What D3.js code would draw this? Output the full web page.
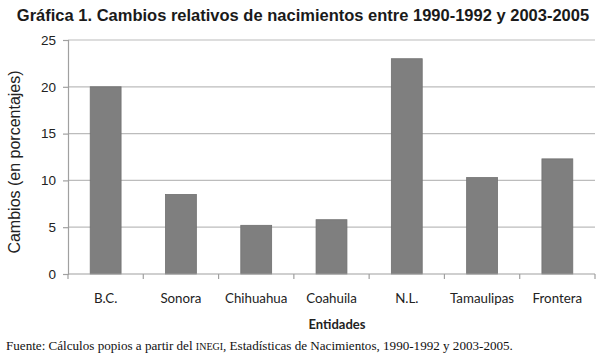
<!DOCTYPE html>
<html><head><meta charset="utf-8">
<script src="https://cdn.jsdelivr.net/npm/d3@7"></script>
<style>body{margin:0;background:#fff}svg{display:block}</style>
</head><body>
<script>
const categories = ["B.C.","Sonora","Chihuahua","Coahuila","N.L.","Tamaulipas","Frontera"];
const values = [20.0, 8.5, 5.2, 5.8, 23.0, 10.3, 12.3];
const yTicks = [0,5,10,15,20,25];
const title = "Gráfica 1. Cambios relativos de nacimientos entre 1990-1992 y 2003-2005";
const yTitle = "Cambios (en porcentajes)";
const xTitle = "Entidades";

const W=600,H=359;
const svg=d3.select("body").append("svg").attr("width",W).attr("height",H);

const x=d3.scaleBand().domain(categories).range([68,595]).paddingInner(0.59).paddingOuter(0.295);
const y=d3.scaleLinear().domain([0,25]).range([274,40]);

// gridlines
svg.append("g").selectAll("line").data(yTicks.filter(d=>d>0)).join("line")
  .attr("x1",68).attr("x2",595).attr("y1",d=>y(d)).attr("y2",d=>y(d))
  .attr("stroke","#bcbcbc").attr("stroke-width",1.2);

// bars
svg.append("g").selectAll("rect").data(values).join("rect")
  .attr("x",(d,i)=>x(categories[i])).attr("width",x.bandwidth())
  .attr("y",d=>y(d)).attr("height",d=>y(0)-y(d))
  .attr("fill","#7f7f7f").attr("stroke","#707070").attr("stroke-width",0.8);

// y axis
const ya=svg.append("g").attr("transform","translate(68,0)")
  .call(d3.axisLeft(y).tickValues(yTicks).tickSize(5).tickPadding(7));
ya.select(".domain").attr("stroke","#a0a0a0").attr("stroke-width",1.2);
ya.selectAll(".tick line").attr("stroke","#a0a0a0").attr("stroke-width",1.2);
ya.selectAll("text").attr("font-family","Liberation Sans, Arial, sans-serif").attr("font-size",13.5).attr("fill","#222");

// x axis
const xEdge=d3.scaleLinear().domain([0,categories.length]).range([68,595]);
const xa=svg.append("g").attr("transform","translate(0,274)");
xa.append("line").attr("x1",68).attr("x2",595).attr("stroke","#a0a0a0").attr("stroke-width",1.2);
xa.selectAll("line.t").data(d3.range(categories.length+1)).join("line").attr("class","t")
  .attr("x1",d=>xEdge(d)).attr("x2",d=>xEdge(d)).attr("y1",0).attr("y2",5)
  .attr("stroke","#a0a0a0").attr("stroke-width",1.2);
xa.selectAll("text").data(categories).join("text")
  .attr("x",d=>x(d)+x.bandwidth()/2).attr("y",29)
  .attr("text-anchor","middle").attr("font-family","Lato, Open Sans, sans-serif")
  .attr("font-size",13.3).attr("fill","#222").text(d=>d);

// titles
svg.append("text").attr("x",303).attr("y",21).attr("text-anchor","middle")
  .attr("font-family","Liberation Sans, Arial, sans-serif").attr("font-weight","bold")
  .attr("font-size",16.5).attr("fill","#1a1a1a").text(title);
svg.append("text").attr("transform","translate(20,162) rotate(-90)").attr("text-anchor","middle")
  .attr("font-family","Liberation Sans, Arial, sans-serif").attr("font-size",16).attr("fill","#222").text(yTitle);
svg.append("text").attr("x",337).attr("y",329).attr("text-anchor","middle")
  .attr("font-family","Lato, Open Sans, sans-serif").attr("font-weight","bold")
  .attr("font-size",13).attr("fill","#222").text(xTitle);

// footnote
const fn=svg.append("text").attr("x",6).attr("y",350)
  .attr("font-family","Liberation Serif, DejaVu Serif, serif").attr("font-size",13.1).attr("fill","#111");
fn.append("tspan").text("Fuente: Cálculos popios a partir del ");
fn.append("tspan").attr("font-size",10).text("INEGI");
fn.append("tspan").text(", Estadísticas de Nacimientos, 1990-1992 y 2003-2005.");
</script>
</body></html>
